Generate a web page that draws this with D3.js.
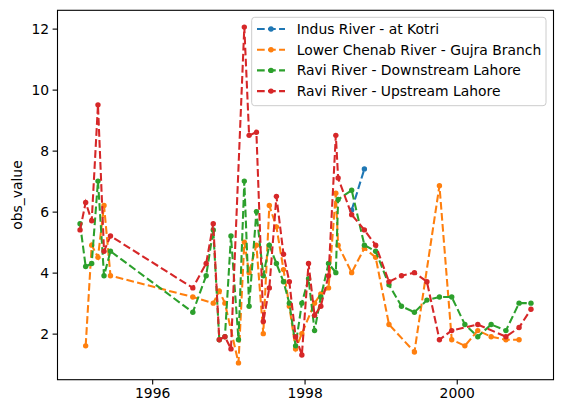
<!DOCTYPE html>
<html><head><meta charset="utf-8">
<script src="https://cdn.jsdelivr.net/npm/d3@7"></script>
<style>body{margin:0;background:#fff}svg{display:block;font-family:"DejaVu Sans",sans-serif}</style>
</head><body><svg id="c" width="563" height="413"></svg>
<script>
const seriesNames = ["Indus River - at Kotri","Lower Chenab River - Gujra Branch","Ravi River - Downstream Lahore","Ravi River - Upstream Lahore"];
const seriesColors = ["#1f77b4","#ff7f0e","#2ca02c","#d62728"];

const indusDates = ["1998-08-15","1998-10-15"];
const indusValues = [6.05,7.4];

const chenabDates = ["1995-02-16","1995-03-17","1995-04-16","1995-05-15","1995-06-15","1996-07-14","1996-10-20","1996-11-18","1996-12-15","1997-02-18","1997-03-18","1997-04-10","1997-05-15","1997-06-17","1997-07-16","1997-08-19","1997-09-22","1997-10-20","1997-11-19","1997-12-19","1998-02-18","1998-03-20","1998-04-26","1998-05-31","1998-06-11","1998-08-15","1998-10-15","1998-12-08","1999-02-10","1999-06-12","1999-10-10","1999-12-08","2000-02-09","2000-04-11","2000-06-14","2000-08-24","2000-10-26"];
const chenabValues = [1.6,4.9,4.5,6.2,3.9,3.2,3.0,3.4,3.0,1.04,5.0,4.0,4.9,2.0,6.2,5.5,4.1,2.9,1.5,2.0,3.0,3.3,3.5,6.6,4.9,4.0,4.8,4.5,2.3,1.4,6.85,1.8,1.6,2.1,1.9,1.8,1.8];

const downDates = ["1995-01-20","1995-02-16","1995-03-17","1995-04-16","1995-05-15","1995-06-15","1996-07-14","1996-09-16","1996-10-20","1996-11-18","1996-12-15","1997-01-13","1997-02-18","1997-03-18","1997-04-10","1997-05-15","1997-06-17","1997-07-16","1997-08-19","1997-09-22","1997-10-20","1997-11-19","1997-12-19","1998-01-20","1998-02-18","1998-03-20","1998-04-26","1998-05-31","1998-06-11","1998-08-15","1998-10-15","1998-12-08","1999-02-10","1999-04-11","1999-06-12","1999-08-11","1999-10-10","1999-12-08","2000-02-09","2000-04-11","2000-06-14","2000-08-24","2000-10-26","2000-12-22"];
const downValues = [5.6,4.2,4.3,7.0,3.9,4.7,2.7,3.9,5.4,1.8,1.9,5.2,1.8,7.0,2.9,6.0,3.9,4.9,4.3,3.7,3.0,1.6,3.0,3.8,2.1,3.2,4.3,4.0,6.4,6.7,4.9,4.7,3.6,2.9,2.7,3.1,3.2,3.2,2.3,1.9,2.3,2.1,3.0,3.0];

const upDates = ["1995-01-20","1995-02-16","1995-03-17","1995-04-16","1995-05-15","1995-06-15","1996-07-14","1996-09-16","1996-10-20","1996-11-18","1996-12-15","1997-01-13","1997-03-18","1997-04-10","1997-05-15","1997-06-17","1997-07-16","1997-08-19","1997-09-22","1997-10-20","1997-11-19","1997-12-19","1998-01-20","1998-02-18","1998-03-20","1998-04-26","1998-05-31","1998-06-11","1998-08-15","1998-10-15","1998-12-08","1999-02-10","1999-04-11","1999-06-12","1999-08-11","1999-10-10","1999-12-08","2000-04-11","2000-08-24","2000-10-26","2000-12-22"];
const upValues = [5.4,6.3,5.7,9.5,4.7,5.2,3.5,4.3,5.6,1.8,1.9,1.5,12.05,8.5,8.6,2.4,3.5,6.5,4.6,3.7,1.9,1.3,4.3,2.6,2.9,3.9,8.5,7.1,5.9,5.4,4.9,3.7,3.9,4.0,3.7,1.8,2.1,2.3,1.9,2.2,2.8];

const yTicks = [2,4,6,8,10,12];
const xTickYears = [1996,1998,2000];

const parse = d3.utcParse("%Y-%m-%d");
const allDates = [indusDates,chenabDates,downDates,upDates];
const allValues = [indusValues,chenabValues,downValues,upValues];
const series = seriesNames.map((n,i)=>({name:n,color:seriesColors[i],
  pts: allDates[i].map((d,j)=>({t:parse(d),v:allValues[i][j]}))}));

const L=57.5, T=10.3, W=496, H=369.4;
const LW=2.08, DASH="7.7,3.33", R=2.7;
const svg=d3.select("#c");
const flat=series.flatMap(s=>s.pts);
const tExt=d3.extent(flat,p=>+p.t), vExt=d3.extent(flat,p=>p.v);
const tPad=(tExt[1]-tExt[0])*0.05, vPad=(vExt[1]-vExt[0])*0.05;
const x=d3.scaleUtc().domain([new Date(tExt[0]-tPad),new Date(tExt[1]+tPad)]).range([L,L+W]);
const y=d3.scaleLinear().domain([vExt[0]-vPad,vExt[1]+vPad]).range([T+H,T]);

svg.append("clipPath").attr("id","cl").append("rect").attr("x",L).attr("y",T).attr("width",W).attr("height",H);
const g=svg.append("g").attr("clip-path","url(#cl)");
const line=d3.line().x(p=>x(p.t)).y(p=>y(p.v));
series.forEach(s=>{
  g.append("path").attr("d",line(s.pts)).attr("fill","none").attr("stroke",s.color)
   .attr("stroke-width",LW).attr("stroke-dasharray",DASH);
  g.selectAll(null).data(s.pts).enter().append("circle")
   .attr("cx",p=>x(p.t)).attr("cy",p=>y(p.v)).attr("r",R).attr("fill",s.color);
});

const xAxis=d3.axisBottom(x).tickValues(xTickYears.map(yv=>new Date(Date.UTC(yv,0,1)))).tickFormat(d3.utcFormat("%Y")).tickSize(4.9).tickPadding(3.5);
const yAxis=d3.axisLeft(y).tickValues(yTicks).tickFormat(d3.format("d")).tickSize(4.9).tickPadding(3.5);
const gx=svg.append("g").attr("transform",`translate(0,${T+H})`).call(xAxis);
const gy=svg.append("g").attr("transform",`translate(${L},0)`).call(yAxis);
[gx,gy].forEach(a=>{a.select(".domain").remove();
  a.selectAll("line").attr("stroke","#000").attr("stroke-width",1.1);
  a.selectAll("text").attr("font-size","13.9px").attr("fill","#000").attr("font-family","DejaVu Sans");});
svg.append("rect").attr("x",L).attr("y",T).attr("width",W).attr("height",H)
  .attr("fill","none").attr("stroke","#000").attr("stroke-width",1.1);

svg.append("text").attr("transform",`translate(17,${T+H/2}) rotate(-90)`).attr("text-anchor","middle")
  .attr("dominant-baseline","central").attr("font-size","13.9px").text("obs_value");

const lg=svg.append("g");
lg.append("rect").attr("x",251.7).attr("y",17.3).attr("width",294.3).attr("height",88.4).attr("rx",3)
  .attr("fill","#fff").attr("fill-opacity",0.8).attr("stroke","#ccc").attr("stroke-width",1);
series.forEach((s,i)=>{
  const cy=29+i*20.7;
  lg.append("line").attr("x1",257).attr("x2",285).attr("y1",cy).attr("y2",cy).attr("stroke",s.color)
    .attr("stroke-width",LW).attr("stroke-dasharray",DASH);
  lg.append("circle").attr("cx",271).attr("cy",cy).attr("r",R).attr("fill",s.color);
  lg.append("text").attr("x",296.7).attr("y",cy).attr("dominant-baseline","central").attr("font-size","13.9px").text(s.name);
});
</script></body></html>
